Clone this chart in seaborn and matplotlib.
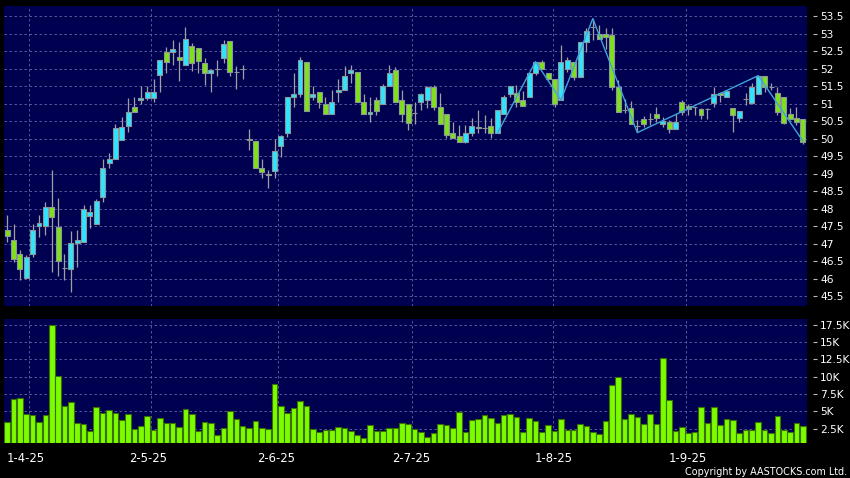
#Daily candles + volume, AASTOCKS style (27-3-25 .. 25-9-25)

import numpy as np
import pandas as pd
import seaborn as sns
import matplotlib
matplotlib.use("Agg")
from matplotlib import pyplot as plt
from matplotlib.ticker import FuncFormatter

# values, one entry per trading day
opens = [47.40, 47.10, 46.69, 46.01, 46.69, 47.50, 47.50, 48.05, 47.46, 46.29,
         46.26, 47.01, 47.05, 47.80, 47.55, 48.34, 49.29, 49.41, 49.96, 50.36,
         50.89, 51.10, 51.15, 51.15, 51.81, 52.48, 52.48, 52.34, 52.10, 52.64,
         52.60, 52.15, 51.86, 52.00, 52.29, 52.80, 51.91, 52.00, 49.98, 49.94,
         49.15, 49.00, 49.08, 49.80, 50.15, 51.20, 51.26, 52.20, 51.20, 51.34,
         51.00, 50.69, 51.34, 51.40, 51.86, 51.89, 51.05, 50.69, 51.10, 51.00,
         51.50, 51.96, 51.10, 51.00, 50.74, 51.05, 51.10, 51.46, 50.89, 50.69,
         50.15, 50.07, 49.91, 50.15, 50.34, 50.29, 50.36, 50.15, 50.70, 51.26,
         51.29, 51.10, 51.20, 51.86, 52.20, 51.86, 51.69, 51.10, 52.00, 52.20,
         51.75, 52.75, 53.20, 53.00, 53.00, 52.96, 51.46, 50.82, 50.86, 50.36,
         50.55, 50.55, 50.70, 50.43, 50.48, 50.26, 51.05, 50.93, 50.89, 50.84,
         50.84, 51.02, 51.29, 51.20, 50.88, 50.60, 51.13, 51.02, 51.27, 51.80,
         51.48, 51.29, 51.20, 50.69, 50.60, 50.55]
highs = [47.81, 47.56, 46.81, 46.67, 47.56, 47.81, 48.18, 49.10, 48.29, 46.70,
         47.37, 47.40, 48.10, 48.10, 48.27, 49.41, 49.60, 50.41, 50.62, 51.15,
         51.20, 51.50, 51.50, 51.70, 52.26, 52.62, 52.81, 52.75, 53.20, 52.72,
         52.60, 52.29, 52.00, 52.26, 52.81, 52.80, 52.07, 52.10, 50.26, 49.94,
         49.41, 49.10, 50.00, 50.10, 51.20, 51.88, 52.34, 52.20, 51.50, 51.34,
         51.20, 51.40, 51.69, 52.07, 52.10, 51.89, 51.26, 51.20, 51.20, 51.56,
         52.10, 52.05, 51.40, 51.00, 51.05, 51.29, 51.50, 51.53, 51.29, 50.69,
         50.48, 50.39, 50.39, 50.58, 50.81, 50.67, 50.58, 50.81, 51.24, 51.50,
         51.53, 51.37, 51.86, 52.20, 52.24, 51.86, 51.69, 52.67, 52.32, 52.20,
         52.75, 53.15, 53.43, 53.24, 53.15, 53.15, 51.67, 51.12, 51.08, 50.53,
         50.64, 50.72, 50.91, 50.62, 50.53, 50.70, 51.10, 51.00, 50.91, 50.86,
         50.86, 51.46, 51.32, 51.40, 50.88, 50.80, 51.29, 51.58, 51.80, 51.80,
         51.58, 51.46, 51.20, 50.88, 50.89, 50.55]
lows = [47.05, 46.48, 45.96, 46.01, 46.61, 47.20, 47.24, 46.20, 46.07, 45.96,
        45.60, 46.34, 47.05, 47.43, 47.55, 48.20, 49.15, 49.41, 49.96, 50.19,
        50.75, 51.00, 51.10, 51.05, 51.34, 51.88, 52.10, 51.65, 52.10, 51.94,
        51.86, 51.53, 51.34, 51.78, 52.15, 51.79, 51.41, 51.69, 49.67, 49.15,
        48.86, 48.60, 48.86, 49.48, 50.05, 50.89, 51.20, 50.80, 51.10, 50.86,
        50.69, 50.69, 51.05, 51.40, 51.60, 51.05, 50.69, 50.48, 50.67, 51.00,
        51.50, 51.05, 50.48, 50.24, 50.43, 50.81, 50.86, 50.81, 50.41, 50.03,
        50.02, 49.91, 49.86, 50.07, 50.15, 50.15, 50.03, 50.15, 50.70, 51.20,
        50.91, 50.93, 51.20, 51.81, 52.00, 51.69, 50.91, 51.10, 51.91, 51.67,
        51.75, 52.48, 52.83, 52.86, 52.55, 51.40, 50.75, 50.74, 50.41, 50.20,
        50.34, 50.39, 50.48, 50.34, 50.17, 50.26, 50.67, 50.67, 50.67, 50.55,
        50.55, 50.89, 51.05, 51.18, 50.20, 50.48, 50.96, 50.99, 51.27, 51.34,
        51.39, 50.67, 50.43, 50.53, 50.39, 49.84]
closes = [47.21, 46.55, 46.26, 46.61, 47.40, 47.60, 48.05, 47.75, 46.50, 46.29,
          47.01, 47.10, 48.00, 47.89, 48.21, 49.15, 49.41, 50.29, 50.34, 50.75,
          50.75, 51.15, 51.34, 51.34, 52.26, 52.20, 52.55, 52.26, 52.86, 52.15,
          52.21, 51.86, 51.96, 52.00, 52.69, 51.91, 51.91, 52.00, 49.95, 49.15,
          49.05, 48.95, 49.65, 50.07, 51.20, 51.26, 52.26, 50.80, 51.26, 51.05,
          50.69, 51.05, 51.40, 51.79, 51.96, 51.05, 50.69, 50.75, 50.80, 51.50,
          51.86, 51.05, 50.69, 50.45, 50.74, 51.26, 51.46, 50.89, 50.41, 50.10,
          50.02, 49.91, 50.15, 50.36, 50.29, 50.29, 50.15, 50.81, 51.20, 51.50,
          51.05, 50.93, 51.86, 52.20, 52.00, 51.69, 51.00, 52.20, 52.26, 51.75,
          52.75, 53.07, 53.20, 52.86, 52.89, 51.46, 50.77, 50.82, 50.41, 50.36,
          50.41, 50.55, 50.60, 50.51, 50.26, 50.48, 50.75, 50.84, 50.89, 50.67,
          50.84, 51.27, 51.24, 51.36, 50.67, 50.80, 51.13, 51.46, 51.80, 51.46,
          51.48, 50.75, 50.45, 50.55, 50.48, 49.91]
volume = [3427, 6708, 6901, 4536, 4392, 3475, 4440, 17518, 10038, 5695,
          6370, 3233, 3089, 2123, 5550, 4681, 5116, 4778, 3716, 4585,
          2365, 2799, 4295, 2268, 4006, 3330, 3233, 2703, 5260, 4585,
          2075, 3427, 3282, 1544, 2606, 5019, 3909, 2847, 2558, 3523,
          2606, 2461, 8880, 5695, 4681, 5502, 6467, 5743, 2461, 1930,
          2268, 2316, 2654, 2606, 2172, 1496, 1110, 2992, 2172, 2172,
          2606, 2606, 3282, 3185, 2461, 2027, 1255, 1882, 3089, 3040,
          2606, 4923, 2027, 3668, 3813, 4440, 3957, 3282, 4392, 4536,
          4102, 1930, 4006, 3620, 2027, 2944, 2123, 3909, 2316, 2316,
          3137, 2847, 1979, 1737, 3571, 8783, 9990, 3909, 4536, 4150,
          3185, 4585, 3089, 12692, 6612, 2172, 2751, 1834, 1979, 5598,
          3233, 5550, 3040, 3909, 3668, 1882, 2268, 2268, 3378, 2268,
          1786, 4343, 2316, 2027, 3330, 2896]

# zigzag turning points (day index, price)
zz_day = [77, 83, 87, 92, 99, 118, 125]
zz_price = [50.15, 52.20, 51.10, 53.43, 50.17, 51.80, 49.93]

date_labels = ["1-4-25", "2-5-25", "2-6-25", "2-7-25", "1-8-25", "1-9-25"]
date_ticks = [2.84, 22.17, 42.28, 63.49, 85.8, 107.0]
grid_days = [3.47, 22.55, 42.62, 63.52, 85.73, 106.6]

price_ticks = np.arange(45.5, 53.6, 0.5)
vol_ticks = np.arange(2500, 17501, 2500)

NAVY = "#000050"
CYAN = "#2ee4ff"
LIME = "#80e01c"
GRID = "#6464a4"

df = pd.DataFrame({"day": np.arange(len(closes)), "open": opens, "high": highs,
                   "low": lows, "close": closes, "volume": volume})

sns.set_theme(style="dark", rc={"figure.facecolor": "black", "axes.facecolor": NAVY,
                                "savefig.facecolor": "black"})
plt.rcParams["font.family"] = ["DejaVu Sans"]

fig = plt.figure(figsize=(8.5, 4.78), dpi=100)
ax = fig.add_axes([0.0047, 0.3588, 0.9447, 0.6287])
axv = fig.add_axes([0.0047, 0.0722, 0.9447, 0.2604])

# candles
up = df["close"] > df["open"]
body_lo = df[["open", "close"]].min(axis=1)
body_h = (df["close"] - df["open"]).abs()
ax.vlines(df["day"], df["low"], df["high"], color="#a0a0a0", lw=0.9, zorder=2)
ax.bar(df["day"], body_h, bottom=body_lo, width=0.78,
       color=np.where(up, CYAN, LIME), edgecolor="#8c9898", linewidth=0.8, zorder=3)
sns.lineplot(x=zz_day, y=zz_price, ax=ax, color="#3ea4dc", lw=1.0, zorder=4)

# volume
sns.barplot(data=df, x="day", y="volume", native_scale=True, color="#7cfc00",
            saturation=1, width=0.88, edgecolor="#3a7000", linewidth=0.8,
            errorbar=None, ax=axv, zorder=3)

for a in (ax, axv):
    a.set_xlim(-0.5, 125.65)
    a.set_xlabel("")
    a.set_ylabel("")
    a.set_axisbelow(True)
    for s in a.spines.values():
        s.set_visible(False)
    a.yaxis.tick_right()
    a.spines["right"].set_position(("outward", 4))
    a.tick_params(axis="y", labelcolor="white", color="#bbbbbb", labelsize=7.7,
                  length=3, width=0.8, pad=2.5)
    a.set_xticks(grid_days, minor=True)
    a.grid(True, axis="y", which="major", color=GRID, ls=(0, (3, 3)), lw=0.6)
    a.grid(True, axis="x", which="minor", color=GRID, ls=(0, (3, 3)), lw=0.6)
    a.tick_params(axis="x", which="minor", length=0)

ax.set_ylim(45.2, 53.79)
ax.set_yticks(price_ticks)
ax.yaxis.set_major_formatter(FuncFormatter(lambda v, p: f"{v:g}"))
ax.set_xticks([])

axv.set_ylim(340, 18340)
axv.set_yticks(vol_ticks)
axv.yaxis.set_major_formatter(FuncFormatter(lambda v, p: f"{v / 1000:g}K"))
axv.set_xticks(date_ticks)
axv.set_xticklabels(date_labels)
axv.spines["bottom"].set_position(("outward", 2))
axv.tick_params(axis="x", which="major", labelcolor="white", color="#aaaaaa",
                labelsize=8.4, length=3, width=0.8, pad=1.2)

fig.text(0.997, 0.0135, "Copyright by AASTOCKS.com Ltd.", color="white",
         fontsize=6.9, ha="right", va="center")

fig.savefig("out.png", dpi=100, facecolor="black")
